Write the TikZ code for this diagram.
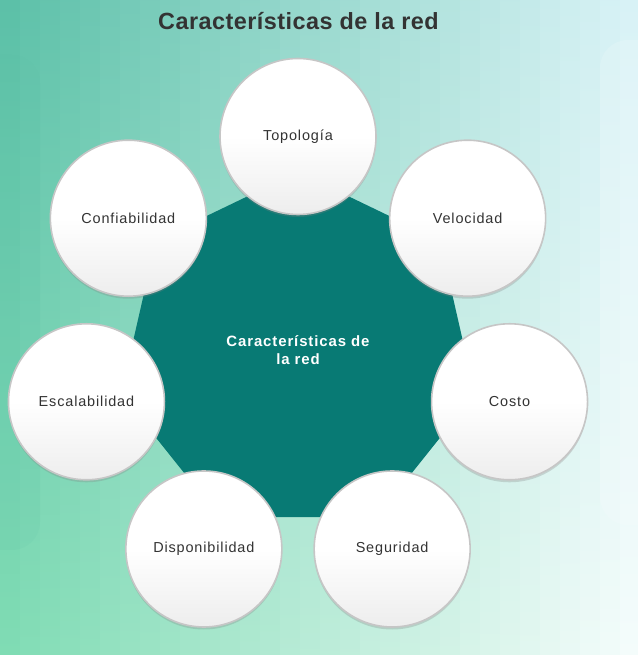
\documentclass[tikz,border=0pt]{standalone}
\usepackage{fontspec}
\setmainfont{Liberation Sans}
\usepackage{xcolor}
\usetikzlibrary{shapes.geometric, shadows, positioning}
\definecolor{fondoizqarr}{HTML}{5CC0A8}
\definecolor{fondoderarr}{HTML}{D8F2F6}
\definecolor{fondoizqab}{HTML}{80DCB4}
\definecolor{fondoderab}{HTML}{F4FCFB}
\definecolor{verdecisco}{HTML}{087A74}
\definecolor{textogris}{HTML}{333333}
\definecolor{bordegris}{HTML}{C6C6C6}
\tikzset{
  caract/.style={circle, minimum size=156bp, inner sep=0pt, draw=bordegris,
    line width=1.6bp, top color=white, bottom color=gray!14, middle color=white,
    text=textogris, font=\fontsize{14.5}{16}\selectfont\addfontfeature{LetterSpace=6},
    drop shadow={opacity=0.28, shadow xshift=0bp, shadow yshift=-2.5bp}},
  nucleo/.style={regular polygon, regular polygon sides=7, minimum size=363bp,
    inner sep=0pt, fill=verdecisco, rounded corners=8bp, text=white,
    align=center, text depth=7bp,
    font=\bfseries\fontsize{15}{18}\selectfont\addfontfeature{LetterSpace=6}},
}

\begin{document}
\begin{tikzpicture}[x=1bp, y=1bp]
        \useasboundingbox (0,0) rectangle (638,655);
        % fondo en franjas
        \foreach \i in {0,...,31} {
          \pgfmathtruncatemacro\p{100-\i*100/31}
          \fill[top color=fondoizqarr!\p!fondoderarr, bottom color=fondoizqab!\p!fondoderab]
            (\i*20,0) rectangle (\i*20+20.5,655);
        }
        \fill[fondoizqarr, opacity=0.1, rounded corners=28bp] (-40,105) rectangle (40,600);
        \fill[white, opacity=0.15, rounded corners=28bp] (600,130) rectangle (680,615);
        \node[font=\bfseries\fontsize{23.5}{26}\selectfont\addfontfeature{LetterSpace=2}, text=textogris]
          (titulo) at (298.5,634) {Características de la red};
        \node[nucleo] (centro) at (298,301.5) {Características de\\la red};
        \foreach \etiq [count=\k from 0] in {Topología, Velocidad, Costo, Seguridad,
            Disponibilidad, Escalabilidad, Confiabilidad}
          \node[caract] (c\k) at ([shift={({90-\k*360/7}:217)}]centro.center) {\etiq};
      \end{tikzpicture}
\end{document}
